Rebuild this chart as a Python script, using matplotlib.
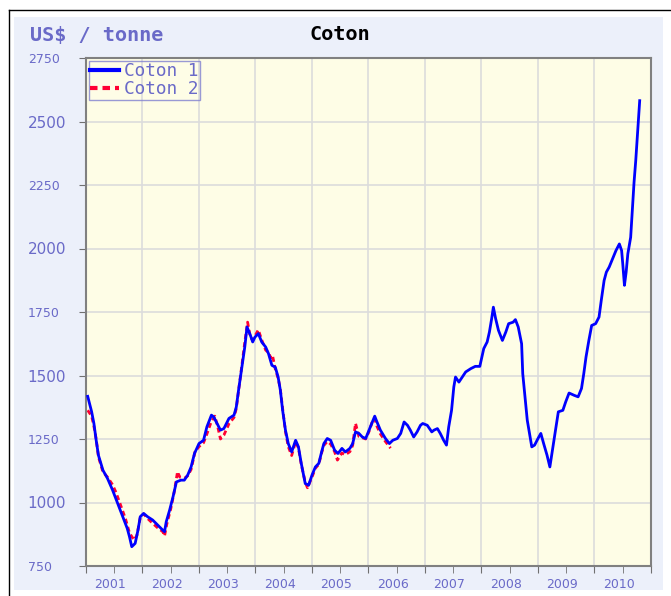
import matplotlib
matplotlib.use("Agg")
import matplotlib.pyplot as plt
from matplotlib.patches import Rectangle
from matplotlib.lines import Line2D
from matplotlib.transforms import ScaledTranslation

# ------------------------------------------------ Daten ------------------------------------------------
# Coton 1 (bleu) : annee decimale / prix en US$ par tonne
annee_c1 = [2001.03, 2001.10, 2001.14, 2001.18, 2001.22, 2001.30, 2001.38, 2001.47, 2001.56, 2001.65,
            2001.73, 2001.77, 2001.81, 2001.87, 2001.92, 2001.96, 2002.02, 2002.09, 2002.18, 2002.27,
            2002.36, 2002.39, 2002.42, 2002.48, 2002.54, 2002.60, 2002.68, 2002.74, 2002.80, 2002.86,
            2002.92, 2003.00, 2003.08, 2003.14, 2003.22, 2003.26, 2003.32, 2003.38, 2003.44, 2003.53,
            2003.62, 2003.66, 2003.70, 2003.75, 2003.81, 2003.85, 2003.91, 2003.95, 2003.99, 2004.05,
            2004.11, 2004.18, 2004.23, 2004.29, 2004.35, 2004.40, 2004.44, 2004.48, 2004.53, 2004.58,
            2004.64, 2004.71, 2004.76, 2004.81, 2004.88, 2004.94, 2005.00, 2005.06, 2005.12, 2005.17,
            2005.21, 2005.27, 2005.33, 2005.40, 2005.46, 2005.53, 2005.59, 2005.67, 2005.72, 2005.77,
            2005.83, 2005.89, 2005.95, 2006.01, 2006.07, 2006.11, 2006.15, 2006.21, 2006.30, 2006.37,
            2006.43, 2006.51, 2006.57, 2006.63, 2006.69, 2006.74, 2006.80, 2006.86, 2006.92, 2006.96,
            2007.04, 2007.12, 2007.16, 2007.22, 2007.27, 2007.33, 2007.38, 2007.42, 2007.47, 2007.51,
            2007.54, 2007.60, 2007.66, 2007.72, 2007.81, 2007.89, 2007.97, 2008.00, 2008.04, 2008.10,
            2008.14, 2008.18, 2008.21, 2008.25, 2008.30, 2008.37, 2008.43, 2008.48, 2008.56, 2008.60,
            2008.65, 2008.71, 2008.73, 2008.77, 2008.81, 2008.85, 2008.89, 2008.94, 2009.00, 2009.05,
            2009.10, 2009.16, 2009.21, 2009.25, 2009.31, 2009.36, 2009.44, 2009.49, 2009.55, 2009.64,
            2009.71, 2009.77, 2009.81, 2009.85, 2009.90, 2009.95, 2010.02, 2010.08, 2010.12, 2010.17,
            2010.21, 2010.26, 2010.32, 2010.38, 2010.44, 2010.48, 2010.50, 2010.53, 2010.56, 2010.59,
            2010.64, 2010.67, 2010.70, 2010.73, 2010.75, 2010.77, 2010.79, 2010.80]
prix_c1 = [1418, 1357, 1311, 1245, 1186, 1127, 1095, 1049, 997, 944,
           898, 865, 826, 839, 891, 944, 957, 944, 931, 911,
           891, 885, 924, 970, 1022, 1081, 1088, 1088, 1108, 1140,
           1193, 1232, 1245, 1298, 1344, 1337, 1311, 1285, 1291, 1331,
           1344, 1376, 1442, 1520, 1612, 1691, 1658, 1632, 1651, 1665,
           1632, 1612, 1586, 1540, 1533, 1494, 1442, 1363, 1285, 1232,
           1199, 1245, 1219, 1154, 1075, 1068, 1108, 1140, 1154, 1199,
           1232, 1252, 1245, 1206, 1193, 1213, 1199, 1213, 1232, 1278,
           1272, 1258, 1252, 1285, 1317, 1340, 1317, 1285, 1252, 1232,
           1245, 1252, 1272, 1317, 1304, 1285, 1258, 1278, 1304, 1311,
           1304, 1278, 1285, 1291, 1272, 1245, 1226, 1298, 1363, 1455,
           1494, 1474, 1494, 1514, 1527, 1536, 1536, 1566, 1606, 1632,
           1671, 1724, 1769, 1724, 1678, 1638, 1671, 1704, 1710, 1720,
           1691, 1625, 1507, 1416, 1324, 1272, 1219, 1226, 1252, 1272,
           1232, 1186, 1140, 1199, 1285, 1357, 1363, 1396, 1431, 1422,
           1416, 1449, 1507, 1573, 1638, 1697, 1704, 1730, 1796, 1874,
           1907, 1927, 1960, 1992, 2018, 1992, 1940, 1855, 1907, 1979,
           2044, 2156, 2261, 2346, 2412, 2477, 2543, 2582]

# Coton 2 (rouge, pointille)
annee_c2 = [2001.03, 2001.10, 2001.14, 2001.18, 2001.22, 2001.30, 2001.38, 2001.47, 2001.53, 2001.62,
            2001.70, 2001.77, 2001.85, 2001.90, 2001.96, 2002.02, 2002.10, 2002.18, 2002.27, 2002.36,
            2002.39, 2002.43, 2002.50, 2002.56, 2002.62, 2002.66, 2002.74, 2002.80, 2002.86, 2002.93,
            2003.00, 2003.08, 2003.14, 2003.22, 2003.28, 2003.33, 2003.38, 2003.44, 2003.53, 2003.62,
            2003.66, 2003.70, 2003.75, 2003.81, 2003.86, 2003.91, 2003.95, 2003.99, 2004.05, 2004.11,
            2004.18, 2004.23, 2004.27, 2004.30, 2004.35, 2004.40, 2004.44, 2004.48, 2004.53, 2004.58,
            2004.64, 2004.71, 2004.76, 2004.81, 2004.88, 2004.92, 2005.00, 2005.06, 2005.12, 2005.17,
            2005.21, 2005.27, 2005.33, 2005.40, 2005.45, 2005.53, 2005.59, 2005.67, 2005.72, 2005.77,
            2005.83, 2005.89, 2005.95, 2006.01, 2006.07, 2006.11, 2006.15, 2006.21, 2006.30, 2006.39]
prix_c2 = [1363, 1340, 1300, 1250, 1180, 1120, 1100, 1070, 1040, 985,
           935, 880, 852, 870, 940, 955, 935, 918, 900, 885,
           868, 915, 975, 1040, 1121, 1100, 1095, 1105, 1130, 1200,
           1220, 1235, 1270, 1320, 1340, 1300, 1250, 1265, 1310, 1335,
           1370, 1440, 1525, 1630, 1710, 1650, 1640, 1655, 1680, 1640,
           1600, 1590, 1570, 1580, 1525, 1490, 1445, 1370, 1280, 1220,
           1185, 1240, 1215, 1150, 1080, 1058, 1100, 1135, 1150, 1195,
           1225, 1240, 1230, 1200, 1167, 1195, 1188, 1200, 1225, 1312,
           1260, 1255, 1250, 1280, 1320, 1330, 1300, 1270, 1240, 1214]

annees = [2001, 2002, 2003, 2004, 2005, 2006, 2007, 2008, 2009, 2010]
y_ticks = [750, 1000, 1250, 1500, 1750, 2000, 2250, 2500, 2750]

# ------------------------------------------------ Figure ------------------------------------------------
bleu_txt = "#6a6ac8"
fig = plt.figure(figsize=(6.71, 5.96), dpi=100)
fig.patch.set_facecolor("white")

# Panneau bleu clair et cadre noir
fig.add_artist(Rectangle((14 / 671, 1 - 590 / 596), (663 - 14) / 671, (590 - 17) / 596,
                         transform=fig.transFigure, facecolor="#ecf0fa", edgecolor="none", zorder=0))
fig.add_artist(Line2D([8.5 / 671, 1], [1 - 9.5 / 596, 1 - 9.5 / 596], transform=fig.transFigure,
                      color="black", lw=1))
fig.add_artist(Line2D([8.5 / 671, 8.5 / 671], [0, 1 - 9.5 / 596], transform=fig.transFigure,
                      color="black", lw=1))

ax = fig.add_axes([86 / 671, 1 - 566 / 596, (651 - 86) / 671, (566 - 58) / 596])
ax.set_facecolor("#fefde6")

ax.plot(annee_c1, prix_c1, color="#0000ff", lw=2, label="Coton 1", zorder=3)
ax.plot(annee_c2, prix_c2, color="#ff0033", lw=2, linestyle=(0, (1.8, 1.2)), label="Coton 2", zorder=2)

ax.set_xlim(2001, 2011)
ax.set_ylim(750, 2750)

# Axe x : traits aux annees, etiquettes au milieu
ax.set_xticks([a for a in annees] + [2011])
ax.set_xticklabels([])
ax.set_xticks([a + 0.5 for a in annees], minor=True)
ax.set_xticklabels([str(a) for a in annees], minor=True, color=bleu_txt, fontsize=9)
ax.tick_params(axis="x", which="both", length=5, color="#707070", direction="out", pad=4)
decal = ScaledTranslation(-4 / 100, 0, fig.dpi_scale_trans)
for lab in ax.get_xticklabels(minor=True):
    lab.set_transform(lab.get_transform() + decal)

ax.set_yticks(y_ticks)
ax.set_yticklabels([str(v) for v in y_ticks])
ax.tick_params(axis="y", length=5, color="#707070", pad=37)
for i, lab in enumerate(ax.get_yticklabels()):
    lab.set_horizontalalignment("left")
    lab.set_color(bleu_txt)
    lab.set_fontsize(11 if y_ticks[i] % 500 == 0 else 9)

ax.grid(True, which="major", color="#dcdcdc", lw=1.2)
ax.set_axisbelow(True)
for s in ax.spines.values():
    s.set_color("#808080")
    s.set_linewidth(1.5)

leg = ax.legend(loc="upper left", prop={"family": "DejaVu Sans Mono", "size": 12.8},
                frameon=True, fancybox=False, borderpad=0.1, labelspacing=0.0,
                handlelength=1.6, handletextpad=0.3, borderaxespad=0.15)
leg.get_frame().set_edgecolor("#8080d0")
leg.get_frame().set_facecolor("none")
leg.get_frame().set_linewidth(1)
for t in leg.get_texts():
    t.set_color(bleu_txt)
for h in leg.get_lines():
    h.set_linewidth(3)

fig.text(30 / 671, 1 - 35 / 596, "US$ / tonne", color=bleu_txt, fontsize=14.5,
         family="DejaVu Sans Mono", ha="left", va="center", weight="bold")
fig.text(340 / 671, 1 - 35 / 596, "Coton", color="black", fontsize=14.5,
         family="DejaVu Sans Mono", ha="center", va="center", weight="bold")

plt.savefig("out.png", dpi=100)
